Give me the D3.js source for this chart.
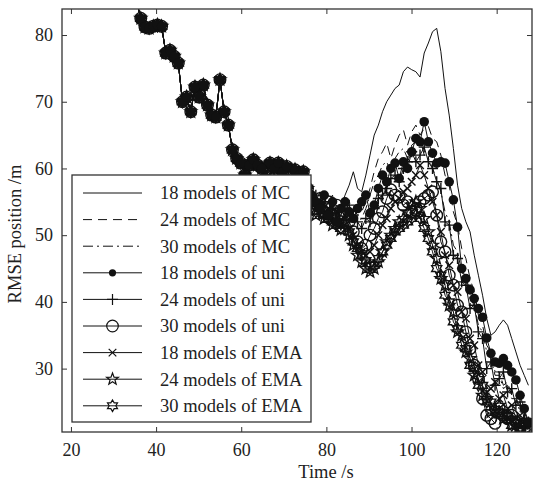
<!DOCTYPE html>
<html><head><meta charset="utf-8">
<script src="https://cdn.jsdelivr.net/npm/d3@7/dist/d3.min.js"></script>
<style>body{margin:0;background:#fff}</style>
</head><body>
<svg id="chart" width="533" height="484"></svg>
<script>
// ---- data ----
const timeStart = 34.45;   // first sample time (s)
const timeStep = 0.979;    // sampling period (s)
const xTicks = [20, 40, 60, 80, 100, 120];
const yTicks = [30, 40, 50, 60, 70, 80];
const seriesNames = ["18 models of MC", "24 models of MC", "30 models of MC",
  "18 models of uni", "24 models of uni", "30 models of uni",
  "18 models of EMA", "24 models of EMA", "30 models of EMA"];

// shared early segment (all methods coincide)
const early = [90, 85, 82.5, 81.2, 81.0, 81.3, 81.5, 81.3, 77.3, 77.7,
  76.8, 75.8, 70.0, 70.7, 68.5, 72.2, 70.7, 72.5, 69.5, 68.0,
  67.7, 73.3, 68.5, 66.5, 62.8, 61.5, 60.8, 59.0, 60.5, 61.3,
  60.5, 60.0, 58.6, 60.8, 60.0, 60.8, 59.5, 60.3, 58.0, 59.8,
  59.0, 59.5, 57.0];

const mc18Late = [56, 55, 56.5, 54, 55, 56, 53, 54, 56, 57.5, 59.5, 57, 56.5, 59, 62, 65, 66.5, 68.5, 70, 71,
  72, 72.5, 74.5, 75.2, 74.8, 74.5, 73.7, 77.3, 78.8, 80.5, 81, 77.5, 72, 68, 63, 57.5, 54, 52, 50.5, 47,
  44, 41, 37.5, 35, 35.5, 36.5, 37.3, 36.5, 34.5, 32.5, 30.5, 29, 27.5];
const mc24Late = [55, 54, 55.5, 53, 54.5, 55.5, 52, 53, 54.5, 55, 54, 53, 53.5, 55, 57, 59.5, 61.5, 62.5, 63.8, 61.5,
  63.5, 65, 65.8, 63.5, 65.5, 66.5, 65, 66, 66.3, 64.5, 64, 62, 59, 57.5, 53.5, 51.5, 48, 46.5, 43.5, 41.5,
  38, 36.5, 33.5, 32.5, 29.5, 29.5, 27.5, 28, 26, 26, 23.5, 23.5, 22];
const mc30Late = [55.5, 54.5, 56, 53.5, 54, 55, 52.5, 53.5, 55, 54, 53, 52, 52.5, 54, 56, 58, 59, 60.5, 61, 59.5,
  61.5, 62.5, 63, 61.5, 63.5, 64, 64.5, 62, 61.5, 60, 58.5, 56.5, 53.5, 52, 48.5, 47.5, 44.5, 43.5, 40.5, 39.5,
  36.5, 35.5, 32.5, 31.5, 29, 29, 27, 27.5, 25.5, 25.5, 23.5, 23.5, 22];
const uni18Late = [56, 55, 54, 56, 53, 55, 52, 54, 55, 53.5, 52.5, 54, 55, 56, 53.3, 54.5, 57, 59, 58, 60,
  60.8, 58.5, 61, 60, 62.5, 64.5, 64, 67, 64, 62.3, 60.8, 61, 60.8, 58, 55.3, 51.2, 45, 43.5, 41.8, 40.5,
  39, 37.7, 34.6, 32.3, 31, 30.8, 31.5, 30.5, 29.5, 28.3, 26, 24, 22];
const uni24Late = [55, 56, 54.5, 55, 52.5, 54, 53, 51.5, 54, 54.5, 53, 52, 51, 52.5, 52, 54, 55.5, 56, 57, 58.5,
  59, 58, 60, 61, 62.5, 61, 62, 63.2, 61, 60, 58, 57, 52, 51.5, 47, 46.5, 43, 42.5, 39, 39.5,
  35.5, 34.5, 30, 31, 27.5, 28.5, 29.5, 26.5, 27, 24.5, 25, 22.5, 22];
const uni30Late = [55.5, 54, 55.5, 53.5, 55, 53, 54.5, 52, 53, 52, 50.5, 49, 48, 48.5, 50, 51, 52.5, 53.5, 55.5, 56.8,
  56, 55.7, 54.5, 55, 53.5, 54, 55, 55.5, 56, 56.5, 53, 49, 47.5, 44, 42.5, 39.5, 38.5, 35.5, 33, 30.5,
  28.5, 25.5, 23, 22.5, 21.8, 24, 23, 22.5, 23, 22, 21.5, 21, 21];
const ema18Late = [55, 54, 55, 53, 54, 52, 53.5, 52, 53, 51, 50, 48.5, 47.5, 47, 47.5, 48.5, 50, 51.5, 52.5, 54,
  55, 55.5, 56.5, 57, 58, 59, 60.5, 59, 57, 55, 53, 50.5, 47, 45.5, 42.5, 41.5, 38.5, 37.5, 34.5, 33.5,
  30.5, 29.5, 26.5, 27, 28, 25.5, 26, 24, 24.5, 22.5, 23, 21.5, 22];
const ema24Late = [54.5, 53, 54.5, 52.5, 53, 51.5, 52, 50.8, 52, 50, 48.5, 47, 46, 45, 44.5, 45, 46, 47.5, 49, 50,
  51, 52, 52.5, 53.5, 54.5, 55, 54, 52.5, 50.5, 48.5, 46.5, 43.5, 42.5, 39.5, 38.5, 35.5, 35, 32.5, 31.5, 29,
  28.5, 26, 25.5, 23.5, 24, 24.5, 22.5, 23, 21.5, 22, 21.5, 22, 21];
const ema30Late = [55, 53.5, 54, 53, 52.5, 52, 51.5, 51, 51.5, 50.5, 49, 48, 47, 46.2, 45.5, 45.5, 46.5, 47.5, 48.5, 49.5,
  50.5, 51, 51.5, 52, 52.5, 53, 52.5, 51, 49.5, 47.5, 45, 44, 41, 40, 37, 36, 33.5, 33, 30.5, 30,
  27.5, 27.5, 25, 25, 23.5, 23.5, 23, 23, 21.5, 22, 21, 21.5, 20.8];

const seriesLate = [mc18Late, mc24Late, mc30Late, uni18Late, uni24Late, uni30Late, ema18Late, ema24Late, ema30Late];

// ---- styles (kept separate from data) ----
const lineDash = [null, "9,6", "10,4,2,4", null, null, null, null, null, null];
const markerType = [null, null, null, "dot", "plus", "circle", "x", "star", "hex"];
const drawOrder = [0, 1, 2, 4, 5, 6, 7, 8, 3];

// ---- drawing ----
const W = 533, H = 484;
const L = 62, R = 532, T = 9, B = 432;
const FONT = "'Liberation Serif','Times New Roman',Times,serif";
const INK = "#111";

const x = d3.scaleLinear().domain([17.9, 128.3]).range([L, R]);
const y = d3.scaleLinear().domain([20.5, 83.9]).range([B, T]);

const svg = d3.select("#chart");
svg.append("rect").attr("width", W).attr("height", H).attr("fill", "#fff");

svg.append("defs").append("clipPath").attr("id", "clip")
  .append("rect").attr("x", L).attr("y", T).attr("width", R - L).attr("height", B - T);

function starPath(n, Ro, Ri) {
  const pts = [];
  for (let i = 0; i < 2 * n; i++) {
    const a = -Math.PI / 2 + i * Math.PI / n;
    const rr = i % 2 ? Ri : Ro;
    pts.push([(rr * Math.cos(a)).toFixed(2), (rr * Math.sin(a)).toFixed(2)]);
  }
  return "M" + pts.map(p => p.join(",")).join("L") + "Z";
}
function drawMarker(g, type, cx, cy, legend) {
  if (!type) return;
  const sw = legend ? 1.2 : 1.4;
  if (type === "dot") {
    g.append("circle").attr("cx", cx).attr("cy", cy).attr("r", legend ? 3.6 : 4.8).attr("fill", INK);
  } else if (type === "circle") {
    g.append("circle").attr("cx", cx).attr("cy", cy).attr("r", 5.8)
      .attr("fill", "none").attr("stroke", INK).attr("stroke-width", sw);
  } else {
    let d;
    if (type === "plus") d = "M-5.5,0H5.5M0,-5.5V5.5";
    else if (type === "x") d = "M-3.8,-3.8L3.8,3.8M-3.8,3.8L3.8,-3.8";
    else if (type === "star") d = starPath(5, 6.2, 2.6);
    else if (type === "hex") d = starPath(6, 5.8, 3.35);
    g.append("path").attr("d", d).attr("transform", `translate(${cx},${cy})`)
      .attr("fill", "none").attr("stroke", INK).attr("stroke-width", sw);
  }
}

const plot = svg.append("g").attr("clip-path", "url(#clip)");
const line = d3.line().x(d => x(d.t)).y(d => y(d.v));

drawOrder.forEach(i => {
  const vals = early.concat(seriesLate[i]);
  const pts = vals.map((v, k) => ({ t: timeStart + k * timeStep, v }));
  const g = plot.append("g");
  g.append("path").datum(pts).attr("d", line)
    .attr("fill", "none").attr("stroke", INK).attr("stroke-width", 1)
    .attr("stroke-dasharray", lineDash[i]);
  if (markerType[i]) pts.forEach(p => drawMarker(g, markerType[i], x(p.t), y(p.v), false));
});

// axes
const axFont = g => g.selectAll("text").attr("font-family", FONT).attr("font-size", 18).attr("fill", "#222");
const axStyle = g => { g.select(".domain").remove(); g.selectAll("line").attr("stroke", "#333"); };

svg.append("g").attr("transform", `translate(0,${B})`)
  .call(d3.axisBottom(x).tickValues(xTicks).tickSize(-5).tickPadding(11).tickFormat(d3.format("d")))
  .call(axStyle).call(axFont);
svg.append("g").attr("transform", `translate(0,${T})`)
  .call(d3.axisTop(x).tickValues(xTicks).tickSize(-5).tickFormat(""))
  .call(axStyle);
svg.append("g").attr("transform", `translate(${L},0)`)
  .call(d3.axisLeft(y).tickValues(yTicks).tickSize(-5).tickPadding(9).tickFormat(d3.format("d")))
  .call(axStyle).call(axFont);
svg.append("g").attr("transform", `translate(${R},0)`)
  .call(d3.axisRight(y).tickValues(yTicks).tickSize(-5).tickFormat(""))
  .call(axStyle);

svg.append("rect").attr("x", L).attr("y", T).attr("width", R - L).attr("height", B - T)
  .attr("fill", "none").attr("stroke", "#333").attr("stroke-width", 1.3);

// axis titles
svg.append("text").attr("x", 326).attr("y", 478).attr("text-anchor", "middle")
  .attr("font-family", FONT).attr("font-size", 18.5).attr("fill", "#222").text("Time /s");
svg.append("text").attr("transform", "translate(21,234) rotate(-90)").attr("text-anchor", "middle")
  .attr("font-family", FONT).attr("font-size", 18.5).attr("fill", "#222").text("RMSE position /m");

// legend
const lg = svg.append("g");
lg.append("rect").attr("x", 72).attr("y", 175).attr("width", 239).attr("height", 247)
  .attr("fill", "#fff").attr("stroke", "#333").attr("stroke-width", 1.3);
seriesNames.forEach((name, i) => {
  const yy = 193 + i * 26.6;
  lg.append("line").attr("x1", 83).attr("x2", 142).attr("y1", yy).attr("y2", yy)
    .attr("stroke", INK).attr("stroke-width", 1).attr("stroke-dasharray", lineDash[i]);
  drawMarker(lg, markerType[i], 112.5, yy, true);
  lg.append("text").attr("x", 160).attr("y", yy).attr("dy", "0.35em")
    .attr("font-family", FONT).attr("font-size", 18.5).attr("fill", "#222").text(name);
});
</script>
</body></html>
